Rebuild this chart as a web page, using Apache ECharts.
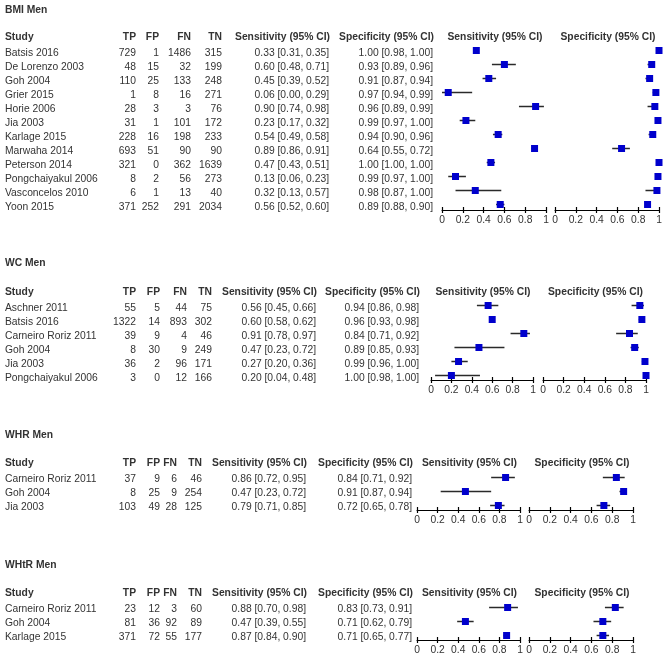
<!DOCTYPE html>
<html>
<head>
<meta charset="utf-8">
<script src="https://cdn.jsdelivr.net/npm/echarts@6/dist/echarts.min.js"></script>
<style>
html,body{margin:0;padding:0;background:#fff;}
#chart{width:671px;height:657px;}
</style>
</head>
<body>
<div id="chart"></div>
<script>
// ---------- DATA ----------
const bmiStudies = ['Batsis 2016','De Lorenzo 2003','Goh 2004','Grier 2015','Horie 2006','Jia 2003','Karlage 2015','Marwaha 2014','Peterson 2014','Pongchaiyakul 2006','Vasconcelos 2010','Yoon 2015'];
const bmiTP = [729,48,110,1,28,31,228,693,321,8,6,371];
const bmiFP = [1,15,25,8,3,1,16,51,0,2,1,252];
const bmiFN = [1486,32,133,16,3,101,198,90,362,56,13,291];
const bmiTN = [315,199,248,271,76,172,233,90,1639,273,40,2034];
const bmiSens = [[0.33,0.31,0.35],[0.60,0.48,0.71],[0.45,0.39,0.52],[0.06,0.00,0.29],[0.90,0.74,0.98],[0.23,0.17,0.32],[0.54,0.49,0.58],[0.89,0.86,0.91],[0.47,0.43,0.51],[0.13,0.06,0.23],[0.32,0.13,0.57],[0.56,0.52,0.60]];
const bmiSpec = [[1.00,0.98,1.00],[0.93,0.89,0.96],[0.91,0.87,0.94],[0.97,0.94,0.99],[0.96,0.89,0.99],[0.99,0.97,1.00],[0.94,0.90,0.96],[0.64,0.55,0.72],[1.00,1.00,1.00],[0.99,0.97,1.00],[0.98,0.87,1.00],[0.89,0.88,0.90]];

const wcStudies = ['Aschner 2011','Batsis 2016','Carneiro Roriz 2011','Goh 2004','Jia 2003','Pongchaiyakul 2006'];
const wcTP = [55,1322,39,8,36,3];
const wcFP = [5,14,9,30,2,0];
const wcFN = [44,893,4,9,96,12];
const wcTN = [75,302,46,249,171,166];
const wcSens = [[0.56,0.45,0.66],[0.60,0.58,0.62],[0.91,0.78,0.97],[0.47,0.23,0.72],[0.27,0.20,0.36],[0.20,0.04,0.48]];
const wcSpec = [[0.94,0.86,0.98],[0.96,0.93,0.98],[0.84,0.71,0.92],[0.89,0.85,0.93],[0.99,0.96,1.00],[1.00,0.98,1.00]];

const whrStudies = ['Carneiro Roriz 2011','Goh 2004','Jia 2003'];
const whrTP = [37,8,103];
const whrFP = [9,25,49];
const whrFN = [6,9,28];
const whrTN = [46,254,125];
const whrSens = [[0.86,0.72,0.95],[0.47,0.23,0.72],[0.79,0.71,0.85]];
const whrSpec = [[0.84,0.71,0.92],[0.91,0.87,0.94],[0.72,0.65,0.78]];

const whtrStudies = ['Carneiro Roriz 2011','Goh 2004','Karlage 2015'];
const whtrTP = [23,81,371];
const whtrFP = [12,36,72];
const whtrFN = [3,92,55];
const whtrTN = [60,89,177];
const whtrSens = [[0.88,0.70,0.98],[0.47,0.39,0.55],[0.87,0.84,0.90]];
const whtrSpec = [[0.83,0.73,0.91],[0.71,0.62,0.79],[0.71,0.65,0.77]];

const sectionTitles = ['BMI Men','WC Men','WHR Men','WHtR Men'];
const colHeaders = ['Study','TP','FP','FN','TN','Sensitivity (95% CI)','Specificity (95% CI)'];
const plotHeaders = ['Sensitivity (95% CI)','Specificity (95% CI)'];
const tickValues = [0,0.2,0.4,0.6,0.8,1];

// ---------- LAYOUT ----------
const sections = [
  {title:sectionTitles[0], studies:bmiStudies, tp:bmiTP, fp:bmiFP, fn:bmiFN, tn:bmiTN, sens:bmiSens, spec:bmiSpec},
  {title:sectionTitles[1], studies:wcStudies, tp:wcTP, fp:wcFP, fn:wcFN, tn:wcTN, sens:wcSens, spec:wcSpec},
  {title:sectionTitles[2], studies:whrStudies, tp:whrTP, fp:whrFP, fn:whrFN, tn:whrTN, sens:whrSens, spec:whrSpec},
  {title:sectionTitles[3], studies:whtrStudies, tp:whtrTP, fp:whtrFP, fn:whtrFN, tn:whtrTN, sens:whtrSens, spec:whtrSpec}
];
const layouts = [
  {titleY:10.5, headerY:37, rowY:52.7, cols:[136,159,191,222,329,433], sensX:[442,546], specX:[555,659], axisY:210},
  {titleY:263.5, headerY:292.3, rowY:307.7, cols:[136,160,187,212,316,419], sensX:[431,533], specX:[543,646], axisY:380},
  {titleY:435, headerY:463.3, rowY:479.3, cols:[136,160,177,202,306,412], sensX:[417,520], specX:[529,633], axisY:510},
  {titleY:565, headerY:593.3, rowY:609, cols:[136,160,177,202,306,412], sensX:[417,520], specX:[529,633], axisY:640}
];
const ROW = 14;
const SQ_OFF = -2.3;
const FONT_FAMILY = '"Liberation Sans", Arial, sans-serif';
const FS = 10.3;
const TXT = '#333';

function fmtCI(a){ return a[0].toFixed(2)+' ['+a[1].toFixed(2)+', '+a[2].toFixed(2)+']'; }

const graphic = [];
function addText(text, x, y, align, bold){
  graphic.push({type:'text', silent:true, style:{text:String(text), x:x, y:y, textAlign:align, textVerticalAlign:'middle',
    font:(bold?'bold ':'')+FS+'px '+FONT_FAMILY, fill:TXT}});
}

const grids = [], xAxes = [], yAxes = [], series = [];

sections.forEach((s, si) => {
  const L = layouts[si];
  addText(s.title, 5, L.titleY, 'left', true);
  addText(colHeaders[0], 5, L.headerY, 'left', true);
  for (let c = 1; c <= 6; c++) addText(colHeaders[c], L.cols[c-1]+ (c>=5?1:0), L.headerY, 'right', true);
  s.studies.forEach((name, i) => {
    const y = L.rowY + i*ROW;
    addText(name, 5, y, 'left', false);
    addText(s.tp[i], L.cols[0], y, 'right', false);
    addText(s.fp[i], L.cols[1], y, 'right', false);
    addText(s.fn[i], L.cols[2], y, 'right', false);
    addText(s.tn[i], L.cols[3], y, 'right', false);
    addText(fmtCI(s.sens[i]), L.cols[4], y, 'right', false);
    addText(fmtCI(s.spec[i]), L.cols[5], y, 'right', false);
  });
  const sq0 = L.rowY + SQ_OFF;
  const top = sq0 - ROW;
  const yMax = (L.axisY - sq0) / ROW;
  [L.sensX, L.specX].forEach((xr, pi) => {
    const gi = grids.length;
    addText(plotHeaders[pi], (xr[0]+xr[1])/2 + 1, L.headerY, 'center', true);
    grids.push({left:xr[0], top:top, width:xr[1]-xr[0], height:L.axisY-top, containLabel:false});
    yAxes.push({type:'value', gridIndex:gi, inverse:true, min:-1, max:yMax, show:false});
    const xi = xAxes.length;
    xAxes.push({type:'value', gridIndex:gi, position:'bottom', min:0, max:1, interval:0.2,
      axisLine:{show:true, onZero:false, lineStyle:{color:'#000', width:1}},
      axisTick:{show:true, inside:false, length:3, lineStyle:{color:'#000', width:1.2}},
      axisLabel:{show:true, margin:5, color:TXT, fontSize:FS, fontFamily:FONT_FAMILY,
        formatter:v => String(+(+v).toFixed(1))},
      splitLine:{show:false}});
    xAxes.push({type:'value', gridIndex:gi, position:'bottom', min:0, max:1, interval:0.2,
      axisLine:{show:false, onZero:false},
      axisTick:{show:true, inside:true, length:3, lineStyle:{color:'#000', width:1.2}},
      axisLabel:{show:false}, splitLine:{show:false}});
    const vals = pi === 0 ? s.sens : s.spec;
    series.push({
      type:'custom', xAxisIndex:xi, yAxisIndex:gi, clip:false, silent:true,
      encode:{x:[0,1,2], y:3},
      data: vals.map((v, i) => [v[0], v[1], v[2], i]),
      renderItem: function(params, api){
        const est = api.value(0), lo = api.value(1), hi = api.value(2), r = api.value(3);
        const pe = api.coord([est, r]), pl = api.coord([lo, r]), ph = api.coord([hi, r]);
        const yy = Math.round(pe[1]) + 0.5;
        return {type:'group', children:[
          {type:'line', shape:{x1:pl[0], y1:yy, x2:ph[0], y2:yy}, style:{stroke:'#2a2a2a', lineWidth:1.5}},
          {type:'rect', shape:{x:pe[0]-3.5, y:yy-3.5, width:7, height:7}, style:{fill:'#0000CC'}}
        ]};
      }
    });
  });
});

const chart = echarts.init(document.getElementById('chart'), null, {renderer:'canvas'});
chart.setOption({
  animation:false,
  backgroundColor:'#fff',
  grid:grids, xAxis:xAxes, yAxis:yAxes, series:series, graphic:graphic
});
</script>
</body>
</html>
